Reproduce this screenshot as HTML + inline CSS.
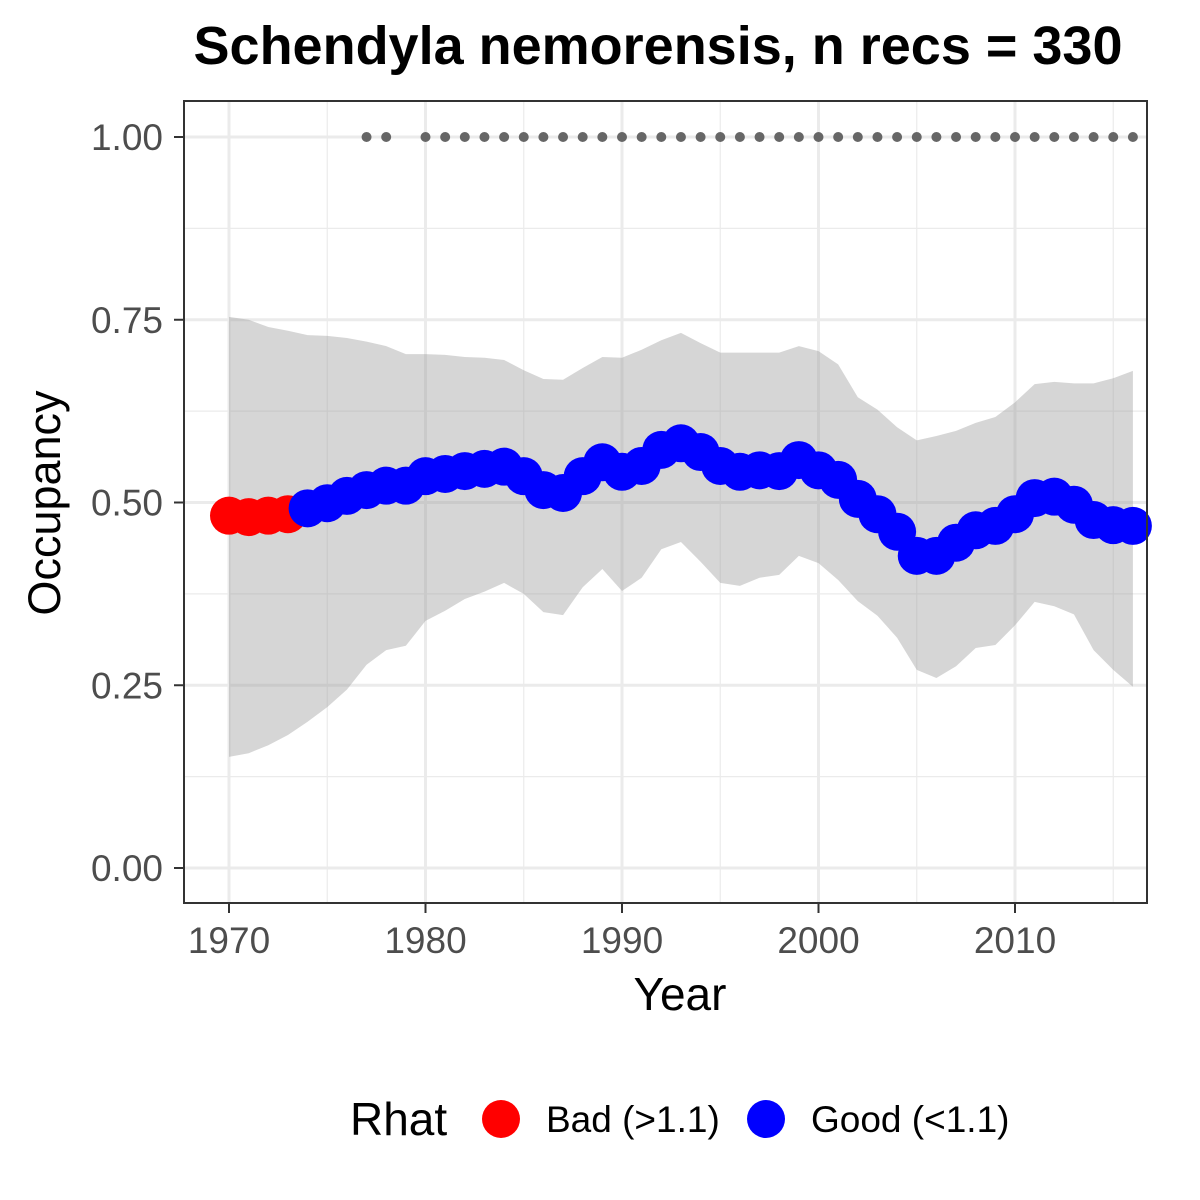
<!DOCTYPE html>
<html><head><meta charset="utf-8"><style>
body{margin:0;background:#fff;}
svg{display:block;font-family:"Liberation Sans",Arial,sans-serif;}
</style></head><body>
<svg id="chart" width="1200" height="1200" viewBox="0 0 1200 1200">
<text x="658" y="64" text-anchor="middle" font-size="54" font-weight="bold" fill="#000">Schendyla nemorensis, n recs = 330</text>
<g id="grid"></g>
<g id="band"></g>
<g id="topdots"></g>
<g id="points"></g>
<rect x="184" y="101" width="963" height="802" fill="none" stroke="#333" stroke-width="2"/>
<g id="axes"></g>
<text x="680" y="1010" text-anchor="middle" font-size="46" fill="#000">Year</text>
<text transform="translate(60,503) rotate(-90)" text-anchor="middle" font-size="45" fill="#000">Occupancy</text>
<g>
<text x="350" y="1135" font-size="46" fill="#000">Rhat</text>
<g><circle cx="501" cy="1119" r="19" fill="#ff0000"/><text x="546" y="1132" font-size="37" fill="#000">Bad (&gt;1.1)</text></g>
<g><circle cx="766" cy="1119" r="19" fill="#0000ff"/><text x="811" y="1132" font-size="37" fill="#000">Good (&lt;1.1)</text></g>
</g>
</svg>
<script>
const years=[1970,1971,1972,1973,1974,1975,1976,1977,1978,1979,1980,1981,1982,1983,1984,1985,1986,1987,1988,1989,1990,1991,1992,1993,1994,1995,1996,1997,1998,1999,2000,2001,2002,2003,2004,2005,2006,2007,2008,2009,2010,2011,2012,2013,2014,2015,2016];
const meanOcc=[0.482,0.480,0.482,0.484,0.492,0.499,0.509,0.517,0.523,0.523,0.536,0.539,0.543,0.546,0.549,0.536,0.517,0.513,0.536,0.555,0.542,0.550,0.572,0.581,0.569,0.550,0.542,0.544,0.543,0.558,0.544,0.531,0.505,0.484,0.460,0.427,0.427,0.445,0.462,0.468,0.484,0.506,0.508,0.497,0.476,0.469,0.468];
const upperCI=[0.754,0.750,0.740,0.735,0.729,0.728,0.725,0.720,0.714,0.703,0.703,0.702,0.699,0.698,0.695,0.681,0.669,0.668,0.684,0.699,0.698,0.709,0.722,0.732,0.718,0.705,0.705,0.705,0.705,0.714,0.707,0.689,0.644,0.627,0.603,0.585,0.591,0.598,0.609,0.617,0.637,0.662,0.665,0.663,0.663,0.670,0.680];
const lowerCI=[0.152,0.157,0.168,0.182,0.200,0.220,0.244,0.278,0.298,0.304,0.338,0.352,0.368,0.378,0.390,0.375,0.350,0.346,0.384,0.409,0.379,0.397,0.436,0.446,0.419,0.390,0.386,0.397,0.401,0.427,0.417,0.394,0.365,0.345,0.315,0.271,0.260,0.276,0.301,0.305,0.332,0.364,0.358,0.347,0.298,0.271,0.248];
const rhatBad=[1,1,1,1,0,0,0,0,0,0,0,0,0,0,0,0,0,0,0,0,0,0,0,0,0,0,0,0,0,0,0,0,0,0,0,0,0,0,0,0,0,0,0,0,0,0,0];
const recordYears=[1977,1978,1980,1981,1982,1983,1984,1985,1986,1987,1988,1989,1990,1991,1992,1993,1994,1995,1996,1997,1998,1999,2000,2001,2002,2003,2004,2005,2006,2007,2008,2009,2010,2011,2012,2013,2014,2015,2016];
const xTicks=[1970,1980,1990,2000,2010];
const yTicks=[0,0.25,0.5,0.75,1];
const yTickLabels=["0.00","0.25","0.50","0.75","1.00"];

const NS="http://www.w3.org/2000/svg";
const X=y=>229+(y-1970)*19.65;
const Y=v=>868-v*731;
function mk(tag,attrs,parent){const e=document.createElementNS(NS,tag);for(const k in attrs)e.setAttribute(k,attrs[k]);document.getElementById(parent).appendChild(e);return e;}

for(let i=0;i<xTicks.length;i++){
  const m=mk('line',{x1:X(xTicks[i]+5),x2:X(xTicks[i]+5),y1:101,y2:903,stroke:'#ebebeb','stroke-width':1.2},'grid');
  
  
}
for(let i=0;i<yTicks.length-1;i++){
  const m=mk('line',{x1:184,x2:1147,y1:Y(yTicks[i]+0.125),y2:Y(yTicks[i]+0.125),stroke:'#ebebeb','stroke-width':1.2},'grid');
  
  
}
xTicks.forEach(t=>{
  const g=mk('line',{x1:X(t),x2:X(t),y1:101,y2:903,stroke:'#ebebeb','stroke-width':3},'grid');
  
  
  const tk=mk('line',{x1:X(t),x2:X(t),y1:903,y2:913,stroke:'#333','stroke-width':2},'axes');
  
  
  const tx=mk('text',{x:X(t),y:953,'text-anchor':'middle','font-size':37,fill:'#4d4d4d'},'axes');
  tx.textContent=t;
  
  
});
yTicks.forEach((t,i)=>{
  const g=mk('line',{x1:184,x2:1147,y1:Y(t),y2:Y(t),stroke:'#ebebeb','stroke-width':3},'grid');
  
  
  const tk=mk('line',{x1:174,x2:184,y1:Y(t),y2:Y(t),stroke:'#333','stroke-width':2},'axes');
  
  
  const tx=mk('text',{x:163,y:Y(t)+13,'text-anchor':'end','font-size':37,fill:'#4d4d4d'},'axes');
  tx.textContent=yTickLabels[i];
  
  
});
let d='M'+years.map((y,i)=>X(y)+','+Y(upperCI[i])).join('L');
for(let i=years.length-1;i>=0;i--)d+='L'+X(years[i])+','+Y(lowerCI[i]);
d+='Z';
const band=mk('path',{d:d,fill:'#999','fill-opacity':0.4},'band');


recordYears.forEach(y=>{
  const c=mk('circle',{cx:X(y),cy:Y(1),r:5,fill:'#666'},'topdots');
  
  
});
years.forEach((y,i)=>{
  const c=mk('circle',{cx:X(y),cy:Y(meanOcc[i]),r:19,fill:rhatBad[i]?'#ff0000':'#0000ff'},'points');
  
  
});
</script>
</body></html>
